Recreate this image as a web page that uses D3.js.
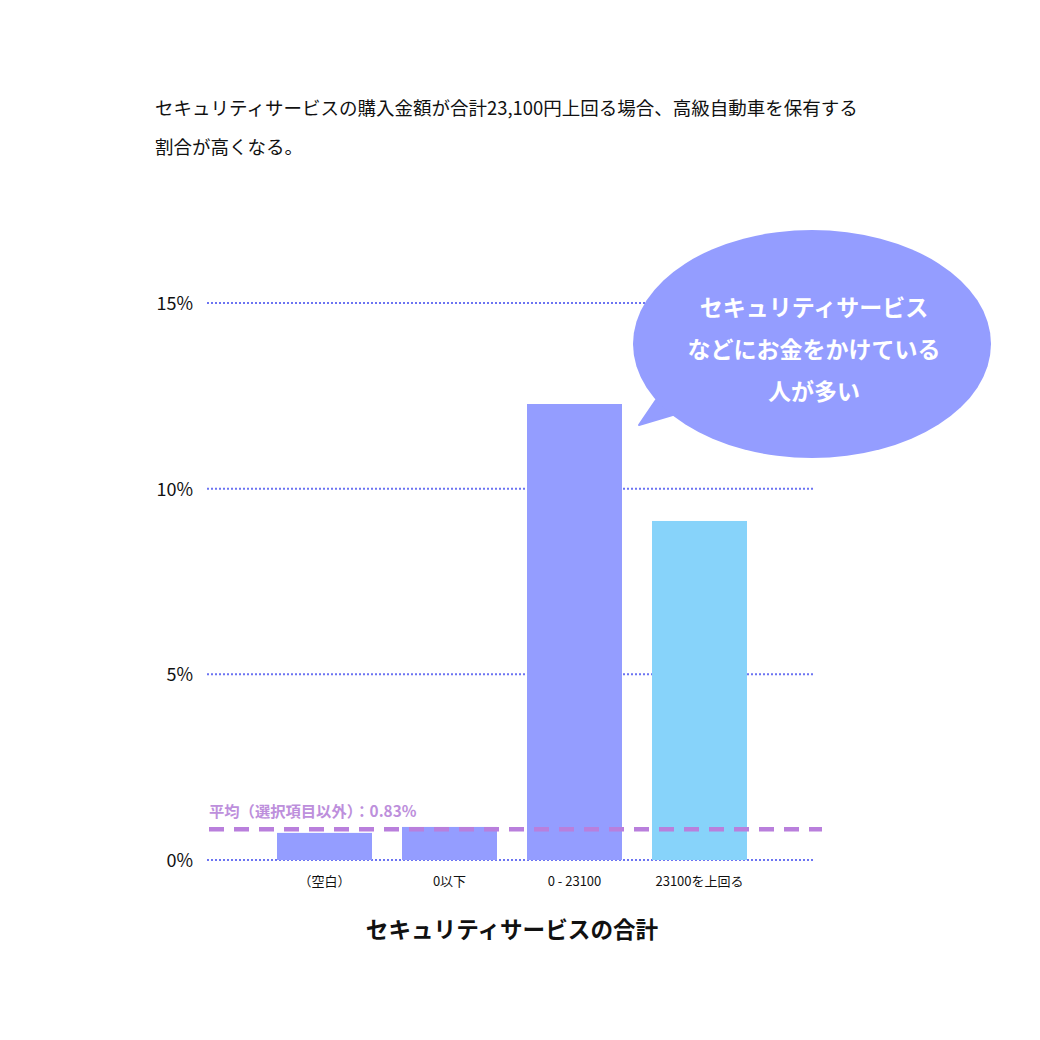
<!DOCTYPE html>
<html><head><meta charset="utf-8">
<script src="https://cdn.jsdelivr.net/npm/d3@7"></script>
<style>body{margin:0;background:#fff}svg{display:block}text{font-family:"Noto Sans CJK JP","Noto Sans",sans-serif}</style>
</head><body><svg id="c" width="1040" height="1040"></svg>
<script>
const categories = ["（空白）", "0以下", "0 - 23100", "23100を上回る"];
const values = [0.73, 0.89, 12.28, 9.13];
const barColors = ["#949dff", "#949dff", "#949dff", "#87d3fa"];
const yTicks = [0, 5, 10, 15];
const averageValue = 0.83;
const averageLabel = "平均（選択項目以外）：0.83%";
const titleLines = ["セキュリティサービスの購入金額が合計23,100円上回る場合、高級自動車を保有する", "割合が高くなる。"];
const xTitle = "セキュリティサービスの合計";
const bubbleLines = ["セキュリティサービス", "などにお金をかけている", "人が多い"];

const svg = d3.select("#c");
const y = d3.scaleLinear().domain([0, 15]).range([860, 303]);
const x = d3.scaleBand().domain(categories).range([262, 762]).paddingInner(0.24).paddingOuter(0.12);

// title
svg.append("g").selectAll("text").data(titleLines).join("text")
  .attr("x", 155).attr("y", (d, i) => 115 + i * 39)
  .attr("font-size", 18.5).attr("fill", "#111").text(d => d);

// grid
svg.append("g").selectAll("line").data(yTicks).join("line")
  .attr("x1", 207).attr("x2", 813).attr("y1", d => y(d)).attr("y2", d => y(d))
  .attr("stroke", "#6c74f2").attr("stroke-width", 2).attr("stroke-dasharray", "2,2");
svg.append("g").selectAll("text").data(yTicks).join("text")
  .attr("x", 193).attr("y", d => y(d) + 7).attr("text-anchor", "end")
  .attr("font-size", 18).attr("fill", "#111").text(d => d + "%");

// bars
svg.append("g").selectAll("rect").data(values).join("rect")
  .attr("x", (d, i) => x(categories[i])).attr("width", x.bandwidth())
  .attr("y", d => y(d)).attr("height", d => y(0) - y(d))
  .attr("fill", (d, i) => barColors[i]);

// x labels
svg.append("g").selectAll("text").data(categories).join("text")
  .attr("x", d => x(d) + x.bandwidth() / 2).attr("y", 886).attr("text-anchor", "middle")
  .attr("font-size", 13).attr("fill", "#111").text(d => d);

// average line
svg.append("line").attr("x1", 209).attr("x2", 822)
  .attr("y1", y(averageValue)).attr("y2", y(averageValue))
  .attr("stroke", "#b97fdc").attr("stroke-width", 4.5).attr("stroke-dasharray", "15,10");
svg.append("text").attr("x", 209).attr("y", y(averageValue) - 12)
  .attr("font-size", 15.3).attr("font-weight", "bold").attr("fill", "#bd8fdc").text(averageLabel);

// x title
svg.append("text").attr("x", 512).attr("y", 938).attr("text-anchor", "middle")
  .attr("font-size", 22.6).attr("font-weight", "bold").attr("fill", "#111").text(xTitle);

// bubble
const bub = svg.append("g");
bub.append("path").attr("d", "M656,400 L639,425 L676,414 Z").attr("fill", "#949dff")
  .attr("stroke", "#949dff").attr("stroke-width", 2).attr("stroke-linejoin", "round");
bub.append("ellipse").attr("cx", 812).attr("cy", 344).attr("rx", 179).attr("ry", 114).attr("fill", "#949dff");
bub.selectAll("text").data(bubbleLines).join("text")
  .attr("x", 814).attr("y", (d, i) => 316 + i * 42).attr("text-anchor", "middle")
  .attr("font-size", 23).attr("font-weight", "bold").attr("fill", "#fff").text(d => d);
</script></body></html>
